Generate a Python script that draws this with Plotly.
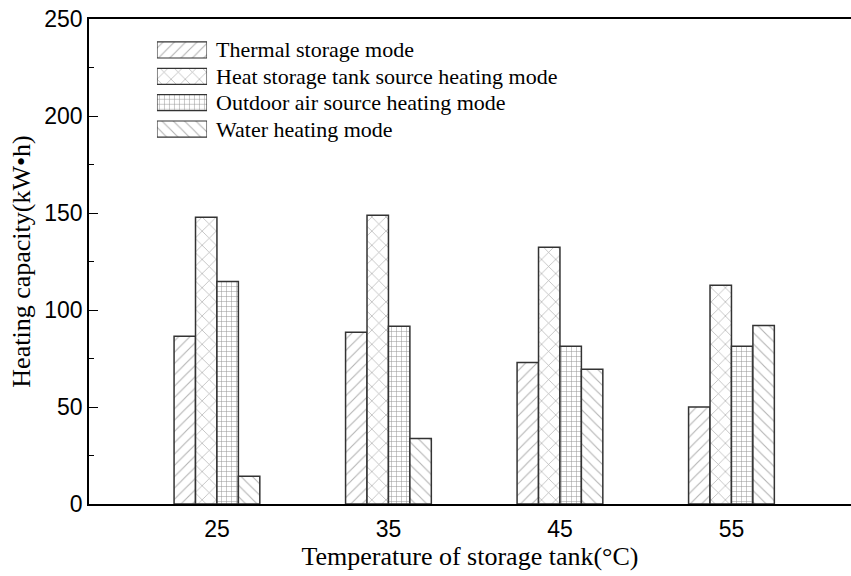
import plotly.graph_objects as go

temperatures = ["25", "35", "45", "55"]
mode_names = [
    "Thermal storage mode",
    "Heat storage tank source heating mode",
    "Outdoor air source heating mode",
    "Water heating mode",
]
thermal_storage = [86.5, 88.5, 73.0, 50.0]
tank_source = [147.8, 148.8, 132.3, 112.8]
outdoor_air = [114.7, 91.6, 81.3, 81.3]
water_heating = [14.3, 33.8, 69.4, 92.0]
series = [thermal_storage, tank_source, outdoor_air, water_heating]
patterns = ["/", "x", "+", "\\"]
pattern_sizes = [8, 10, 5, 8]
pattern_colors = ["#666666", "#666666", "#333333", "#666666"]
pattern_solidity = [0.14, 0.14, 0.2, 0.14]
legend_swatch = [1, 1, 1, 1]

SERIF = "Liberation Serif, Times New Roman, serif"
SANS = "Liberation Sans, Arial, sans-serif"

fig = go.Figure()
for name, vals, pat, ps, pc, so in zip(mode_names, series, patterns, pattern_sizes,
                                       pattern_colors, pattern_solidity):
    fig.add_trace(go.Bar(
        x=temperatures, y=vals, name=name, showlegend=False,
        marker=dict(color="white", line=dict(color="#333333", width=1.5),
                    pattern=dict(shape=pat, fgcolor=pc, bgcolor="white",
                                 size=ps, solidity=so, fillmode="overlay")),
    ))

# legend swatches drawn as a small inset bar chart
fig.add_trace(go.Bar(
    x=legend_swatch, y=mode_names, orientation="h", xaxis="x2", yaxis="y2",
    showlegend=False, width=0.61, hoverinfo="skip",
    marker=dict(color="white", line=dict(color="#333333", width=1.2),
                pattern=dict(shape=patterns, fgcolor=pattern_colors, bgcolor="white",
                             size=pattern_sizes, solidity=pattern_solidity,
                             fillmode="overlay")),
))

for name in mode_names:
    fig.add_annotation(xref="paper", yref="y2", x=0.1640, y=name, text=name,
                       showarrow=False, xanchor="left", yanchor="middle",
                       font=dict(family=SERIF, size=22, color="black"))

fig.update_layout(
    width=851, height=576,
    margin=dict(l=89, r=0, t=19, b=72),
    paper_bgcolor="white", plot_bgcolor="white",
    barmode="group", bargap=0.5, bargroupgap=0,
    xaxis=dict(type="category", range=[-0.746, 3.697], showline=True, mirror=True,
               linecolor="black", linewidth=1.5, ticks="", showgrid=False,
               tickfont=dict(family=SANS, size=23, color="black"),
               ticklabelstandoff=4,
               title=dict(text="Temperature of storage tank(°C)", standoff=4,
                          font=dict(family=SERIF, size=26, color="black"))),
    yaxis=dict(range=[0, 250], dtick=50, showline=True, mirror=False,
               linecolor="black", linewidth=1.5, ticks="inside", ticklen=9,
               tickcolor="black", showgrid=False, zeroline=False,
               minor=dict(ticks="inside", ticklen=5, dtick=25, tickcolor="black"),
               tickfont=dict(family=SANS, size=23, color="black"),
               title=dict(text="Heating capacity(kW•h)", standoff=6,
                          font=dict(family=SERIF, size=26, color="black"))),
    xaxis2=dict(domain=[0.0892, 0.1549], range=[0, 1], visible=False, anchor="y2",
                fixedrange=True),
    yaxis2=dict(domain=[0.746, 0.9633], type="category", range=[3.5, -0.5],
                visible=False, anchor="x2", fixedrange=True),
)

fig.write_html("out.html")
